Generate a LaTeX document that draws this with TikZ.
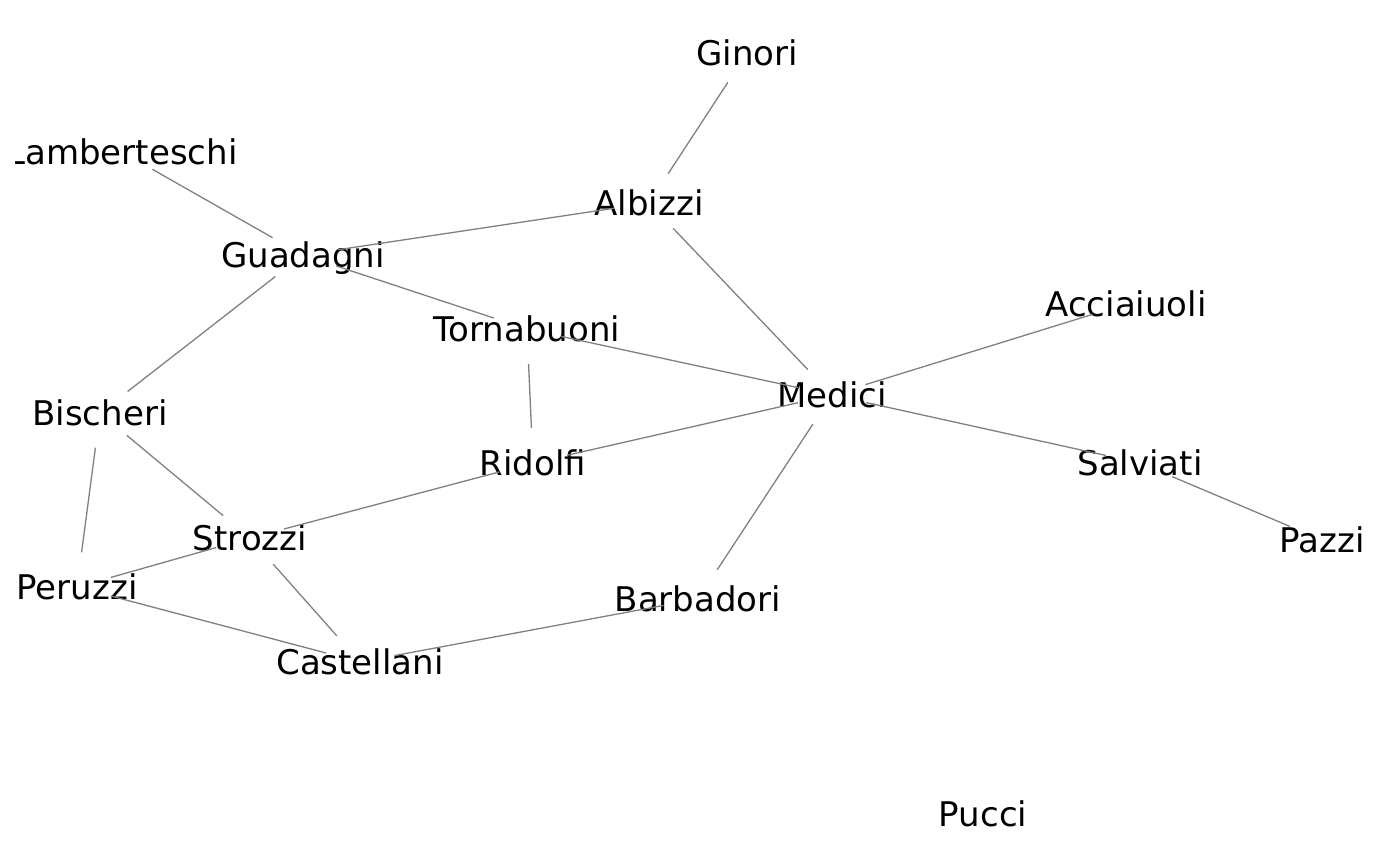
\documentclass[tikz,border=0pt]{standalone}
\usepackage{fontspec}
\setmainfont{DejaVu Sans}
\begin{document}
\begin{tikzpicture}[x=0.5pt,y=-0.5pt,
  lab/.style={inner sep=0pt, anchor=base, yshift=-6.2pt, font=\fontsize{17pt}{20pt}\selectfont, text=black},
  edge/.style={draw=black!50, line width=0.65pt, shorten <=17.5pt, shorten >=17.5pt}]
\useasboundingbox (0,0) rectangle (1400,866);
\begin{scope}
\clip (15,0) rectangle (1400,866);
\node[lab] (ginori) at (747,53) {Ginori};
\node[lab] (lamb) at (122,152) {Lamberteschi};
\node[lab] (albizzi) at (649,203) {Albizzi};
\node[lab] (guadagni) at (303,255) {Guadagni};
\node[lab] (torna) at (527,329) {Tornabuoni};
\node[lab] (acciai) at (1126,304) {Acciaiuoli};
\node[lab] (bischeri) at (100,413) {Bischeri};
\node[lab] (medici) at (832,395) {Medici};
\node[lab] (ridolfi) at (533,463) {Ridolfi};
\node[lab] (salviati) at (1140,463) {Salviati};
\node[lab] (strozzi) at (250,538) {Strozzi};
\node[lab] (pazzi) at (1322,540) {Pazzi};
\node[lab] (peruzzi) at (77,587) {Peruzzi};
\node[lab] (barbadori) at (698,599) {Barbadori};
\node[lab] (castellani) at (360,662) {Castellani};
\node[lab] (pucci) at (983,814) {Pucci};
\end{scope}
\foreach \a/\b in {acciai/medici, albizzi/ginori, albizzi/guadagni, albizzi/medici,
  barbadori/castellani, barbadori/medici, bischeri/guadagni, bischeri/peruzzi,
  bischeri/strozzi, castellani/peruzzi, castellani/strozzi, guadagni/lamb,
  guadagni/torna, medici/ridolfi, medici/salviati, medici/torna, pazzi/salviati,
  peruzzi/strozzi, ridolfi/strozzi, ridolfi/torna}
  \draw[edge] ([yshift=6.2pt]\a.base) -- ([yshift=6.2pt]\b.base);
\end{tikzpicture}
\end{document}
